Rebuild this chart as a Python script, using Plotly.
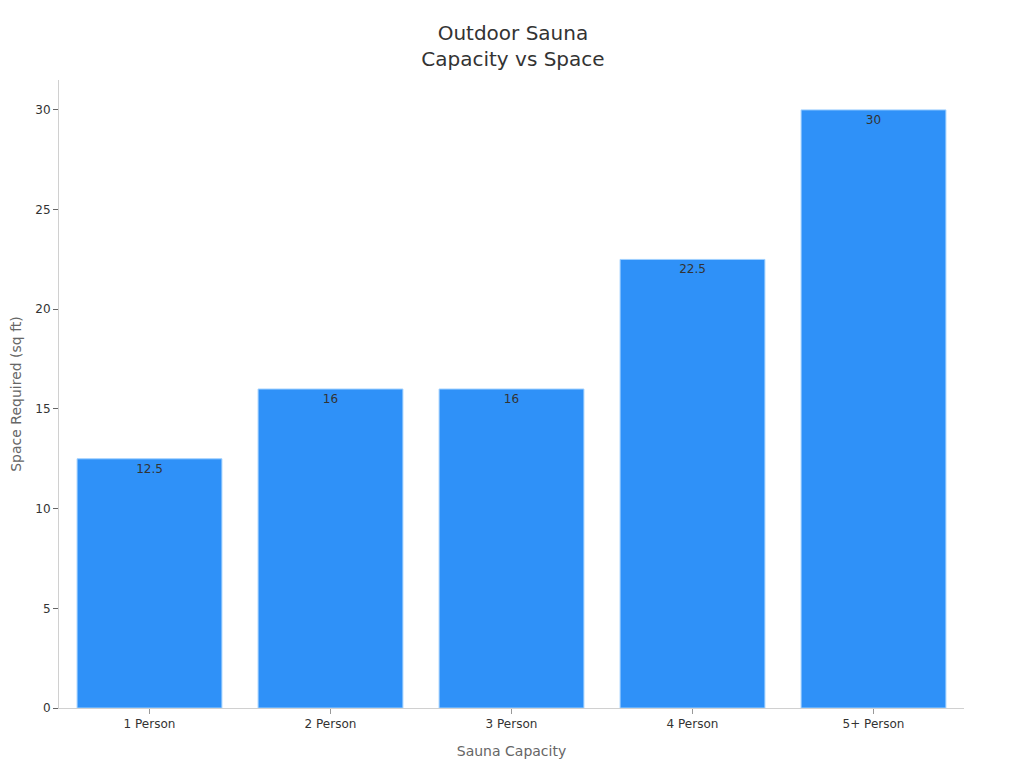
import plotly.graph_objects as go

# Данные
capacity = ["1 Person", "2 Person", "3 Person", "4 Person", "5+ Person"]
space_sqft = [12.5, 16, 16, 22.5, 30]
bar_labels = ["12.5", "16", "16", "22.5", "30"]

fig = go.Figure()

fig.add_trace(
    go.Bar(
        x=capacity, y=space_sqft, text=bar_labels,
        textposition="inside", insidetextanchor="end",
        textfont=dict(color="#333333", size=12),
        marker=dict(color="#2f91f8", line=dict(color="#9fd0ff", width=1)),
    )
)

"""Настройки графика"""
fig.update_layout(
    width=1016, height=760,
    font=dict(family="DejaVu Sans", size=12, color="#333333"),
    title=dict(text="Outdoor Sauna<br>Capacity vs Space", x=0.497, xanchor="center",
               y=0.958, yanchor="top", font=dict(size=20, color="#333333")),
    plot_bgcolor="white", paper_bgcolor="white",
    margin=dict(l=51, r=60, t=72, b=60),
    bargap=0.2, showlegend=False,
)
fig.update_xaxes(
    title=dict(text="Sauna Capacity", font=dict(size=14, color="#666666")),
    showline=True, linecolor="#d0d0d0", ticks="outside", tickcolor="#999999",
    ticklen=5, showgrid=False, automargin=False,
)
fig.update_yaxes(
    title=dict(text="Space Required (sq ft)", font=dict(size=14, color="#666666")),
    range=[0, 31.5], dtick=5,
    showline=True, linecolor="#d0d0d0", ticks="outside", tickcolor="#666666",
    ticklen=5, showgrid=False, zeroline=False, automargin=False,
)

fig.write_html("out.html")
